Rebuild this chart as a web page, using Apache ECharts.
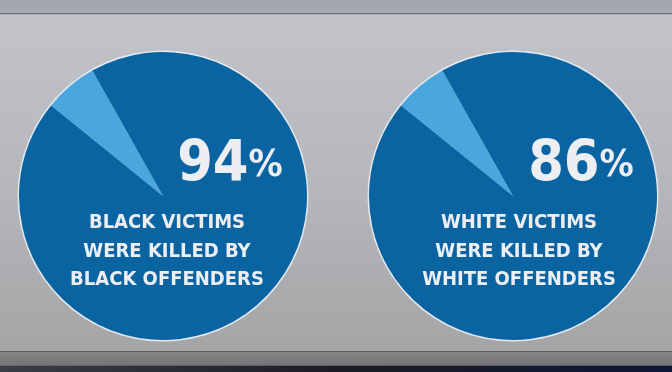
<!DOCTYPE html>
<html><head><meta charset="utf-8">
<script src="https://cdn.jsdelivr.net/npm/echarts@6/dist/echarts.min.js"></script>
<style>html,body{margin:0;padding:0;background:#b8b9be}#c{width:672px;height:372px}</style>
</head><body><div id="c"></div>
<script>
// Slice names and wedge sizes as drawn in the picture (the light wedge looks the same in both)
const sliceNames = ['Other-race offenders', 'Same-race offenders'];
const leftSlices = [6, 94];
const rightSlices = [6, 94];
// Headline numbers and captions
const leftPercent = '94';
const rightPercent = '86';
const leftCaption = ['BLACK VICTIMS', 'WERE KILLED BY', 'BLACK OFFENDERS'];
const rightCaption = ['WHITE VICTIMS', 'WERE KILLED BY', 'WHITE OFFENDERS'];

const DARK = '#0b64a2', LIGHT = '#4aa7dd', TXT = '#eceef1';
const FONT = '"DejaVu Sans Condensed", "Liberation Sans Narrow", sans-serif';

function pieSeries(cx, vals) {
  return [
    { type: 'pie', silent: true, center: [cx, 196], radius: 145.5, startAngle: 90, z: 1,
      label: { show: false }, labelLine: { show: false },
      data: [{ value: 1, itemStyle: { color: '#e4eaef' } }] },
    { type: 'pie', silent: true, center: [cx, 196], radius: 144, startAngle: 141, clockwise: true, z: 2,
      label: { show: false }, labelLine: { show: false }, itemStyle: { borderWidth: 0 },
      data: vals.map((v, i) => ({ name: sliceNames[i], value: v, itemStyle: { color: i === 0 ? LIGHT : DARK } })) }
  ];
}

function texts(pctX, pct, capX, cap) {
  const out = [{
    type: 'text', x: pctX, y: 195, z: 10,
    style: { text: '{n|' + pct + '}{p|%}', textAlign: 'center', textVerticalAlign: 'bottom',
      rich: { n: { fontFamily: FONT, fontWeight: 'bold', fontSize: 57, fill: TXT, color: TXT },
              p: { fontFamily: FONT, fontWeight: 'bold', fontSize: 38, fill: TXT, color: TXT } } }
  }];
  cap.forEach((t, i) => out.push({
    type: 'text', x: capX, y: 233 + i * 28.5, z: 10,
    style: { text: t, textAlign: 'center', textVerticalAlign: 'bottom', fill: TXT,
      font: 'bold 20px ' + FONT }
  }));
  return out;
}

const bg = [
  { type: 'rect', z: -10, shape: { x: 0, y: 0, width: 672, height: 14 }, style: { fill: '#a4a7b2' } },
  { type: 'rect', z: -10, shape: { x: 0, y: 13, width: 672, height: 1.5 }, style: { fill: '#70737c' } },
  { type: 'rect', z: -10, shape: { x: 0, y: 14.5, width: 672, height: 337 },
    style: { fill: new echarts.graphic.LinearGradient(0, 0, 0, 1, [
      { offset: 0, color: '#c2c4ca' }, { offset: 0.5, color: '#b6b7bb' }, { offset: 1, color: '#a5a5a7' }]) } },
  { type: 'rect', z: -10, shape: { x: 0, y: 351, width: 672, height: 1.5 }, style: { fill: '#5a5b5e' } },
  { type: 'rect', z: -10, shape: { x: 0, y: 352.5, width: 672, height: 13 },
    style: { fill: new echarts.graphic.LinearGradient(0, 0, 0, 1, [
      { offset: 0, color: '#838385' }, { offset: 1, color: '#757577' }]) } },
  { type: 'rect', z: -10, shape: { x: 0, y: 365.5, width: 672, height: 7 },
    style: { fill: new echarts.graphic.LinearGradient(0, 0, 1, 0, [
      { offset: 0, color: '#3a3c48' }, { offset: 0.5, color: '#1c1d24' }, { offset: 1, color: '#0e1636' }]) } }
];

const chart = echarts.init(document.getElementById('c'), null, { renderer: 'canvas' });
chart.setOption({
  animation: false,
  backgroundColor: 'transparent',
  series: [...pieSeries(163, leftSlices), ...pieSeries(513, rightSlices)],
  graphic: [...bg, ...texts(230, leftPercent, 167, leftCaption), ...texts(581, rightPercent, 519, rightCaption)]
});
</script></body></html>
